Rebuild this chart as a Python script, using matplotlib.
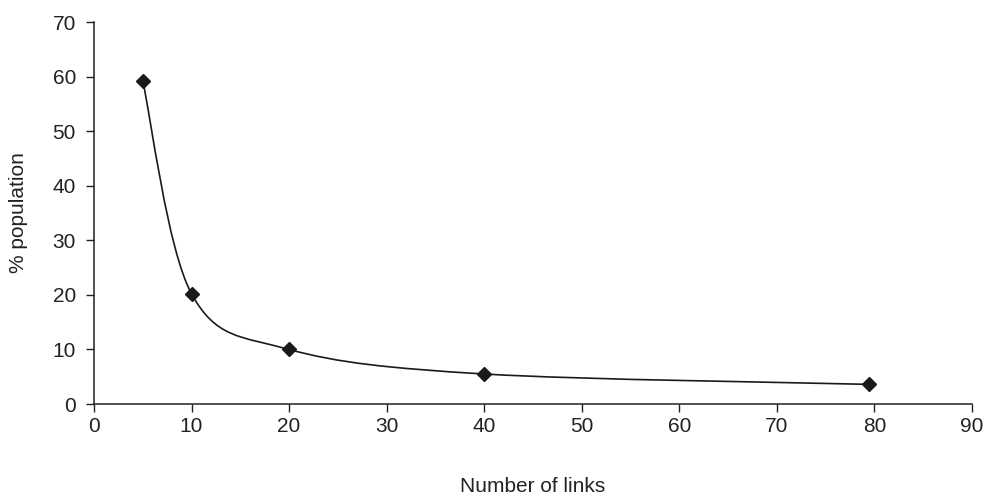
import matplotlib
matplotlib.use('Agg')
from matplotlib import pyplot as plt
from matplotlib.path import Path
from matplotlib.patches import PathPatch
import numpy as np

plt.rcParams['font.family'] = ['Liberation Sans', 'DejaVu Sans']

links = [5, 10, 20, 40, 79.4]
population = [59.2, 20.2, 10.0, 5.5, 3.6]

x_ticks = list(range(0, 91, 10))
y_ticks = list(range(0, 71, 10))


def smooth_path(xs, ys):
    # Excel-like smoothed line: cubic bezier through every point
    pts = np.column_stack([xs, ys]).astype(float)
    ext = np.vstack([pts[0], pts, pts[-1]])
    verts = [pts[0]]
    codes = [Path.MOVETO]
    for i in range(len(pts) - 1):
        p0, p1, p2, p3 = ext[i], ext[i + 1], ext[i + 2], ext[i + 3]
        verts += [p1 + (p2 - p0) / 6, p2 - (p3 - p1) / 6, p2]
        codes += [Path.CURVE4] * 3
    return Path(verts, codes)


fig = plt.figure(figsize=(9.86, 4.97), dpi=100)
ax = fig.add_axes([0.0953, 0.1871, 0.8905, 0.7686])

ax.add_patch(PathPatch(smooth_path(links, population), facecolor='none',
                       edgecolor='#1a1a1a', linewidth=1.2))
ax.plot(links, population, linestyle='none', marker='D', markersize=7,
        color='#1a1a1a')

ax.set_xlim(0, 90)
ax.set_ylim(0, 70)
ax.set_xticks(x_ticks)
ax.set_yticks(y_ticks)
ax.tick_params(labelsize=15, colors='#222222', length=6, width=1)
ax.tick_params(axis='x', pad=3)
ax.tick_params(axis='y', pad=7)
ax.spines['top'].set_visible(False)
ax.spines['right'].set_visible(False)
for s in ['left', 'bottom']:
    ax.spines[s].set_color('#222222')
    ax.spines[s].set_linewidth(1.1)

ax.set_xlabel('Number of links', fontsize=15, color='#222222', va='center')
ax.xaxis.set_label_coords(0.5, -0.217)
ax.set_ylabel('% population', fontsize=15, color='#222222', va='center')
ax.yaxis.set_label_coords(-0.086, 0.5)

fig.savefig('out.png', dpi=100)
